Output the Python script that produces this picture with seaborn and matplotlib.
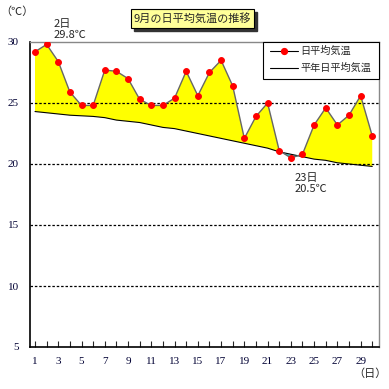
import matplotlib
matplotlib.use("Agg")
import matplotlib.pyplot as plt
import seaborn as sns
import numpy as np
import pandas as pd

days = list(range(1, 31))
daily_mean = [29.2, 29.8, 28.4, 25.9, 24.8, 24.8, 27.7, 27.6, 27.0, 25.3,
              24.8, 24.8, 25.4, 27.6, 25.6, 27.5, 28.5, 26.4, 22.1, 23.9,
              25.0, 21.1, 20.5, 20.8, 23.2, 24.6, 23.2, 24.0, 25.6, 22.3]
normal_mean = [24.3, 24.2, 24.1, 24.0, 23.95, 23.9, 23.8, 23.6, 23.5, 23.4,
               23.2, 23.0, 22.9, 22.7, 22.5, 22.3, 22.1, 21.9, 21.7, 21.5,
               21.3, 21.0, 20.8, 20.6, 20.4, 20.3, 20.1, 20.0, 19.9, 19.8]
yticks = [5, 10, 15, 20, 25, 30]
xtick_labels = [1, 3, 5, 7, 9, 11, 13, 15, 17, 19, 21, 23, 25, 27, 29]
title = "9月の日平均気温の推移"
label_daily = "日平均気温"
label_normal = "平年日平均気温"

sns.set_style("white")
plt.rcParams['font.family'] = ['Noto Sans CJK JP', 'DejaVu Sans']

df = pd.DataFrame({"day": days, "daily": daily_mean, "normal": normal_mean})

fig = plt.figure(figsize=(3.89, 3.89), dpi=100)
ax = fig.add_axes([30/389, 42/389, 349/389, 305/389])

d = np.array(days, float)
a = np.array(daily_mean)
n = np.array(normal_mean)
ax.fill_between(d, a, n, where=a >= n, interpolate=True, color="#ffff00", lw=0, zorder=1)
ax.fill_between(d, a, n, where=a < n, interpolate=True, color="#33cccc", lw=0, zorder=1)

sns.lineplot(data=df, x="day", y="normal", ax=ax, color="black", lw=0.8, zorder=3, legend=False)
sns.lineplot(data=df, x="day", y="daily", ax=ax, color="#666666", lw=1.0, zorder=4,
             marker="o", markersize=4.2, markerfacecolor="red", markeredgecolor="red", legend=False)

for y in [10, 15, 20, 25]:
    ax.axhline(y, color="black", lw=0.9, ls=(0, (2, 1.5)), zorder=2)

ax.set_xlim(0.57, 30.58)
ax.set_ylim(5, 30)
ax.set_yticks(yticks)
ax.set_yticklabels([str(v) for v in yticks], family="Liberation Serif", fontsize=8, color="#000033")
ax.set_xticks(days)
ax.set_xticklabels([str(v) if v in xtick_labels else "" for v in days],
                   family="Liberation Serif", fontsize=8, color="#000033")
ax.tick_params(axis="x", direction="in", length=4, width=0.8, pad=7, bottom=True)
ax.tick_params(axis="y", length=0, pad=8)
ax.set_xlabel("")
ax.set_ylabel("")
for s in ["left", "bottom"]:
    ax.spines[s].set_color("black")
    ax.spines[s].set_linewidth(1.2)
for s in ["top", "right"]:
    ax.spines[s].set_color("#888888")
    ax.spines[s].set_linewidth(1.0)

# annotations
ax.text(2.6, 30.2, "2日\n29.8℃", fontsize=8, va="bottom", ha="left", linespacing=1.1, zorder=6)
ax.text(23.3, 19.3, "23日\n20.5℃", fontsize=8, va="top", ha="left", linespacing=1.2, zorder=6)

fig.text(0/389, 1 - 12/389, "（℃）", fontsize=8, va="center", ha="left")
fig.text(353/389, 1 - 374/389, "（日）", fontsize=8, va="center", ha="left")

# title box with shadow
tx0, ty0, tw, th = 131/389, 1 - 28/389, 123/389, 19/389
fig.patches.append(plt.Rectangle((tx0 + 3/389, ty0 - 3/389), tw, th, transform=fig.transFigure,
                                 color="#333333", zorder=0))
fig.patches.append(plt.Rectangle((tx0, ty0), tw, th, transform=fig.transFigure,
                                 facecolor="#ffff99", edgecolor="black", lw=0.8, zorder=1))
fig.text(tx0 + tw/2, ty0 + th/2, title, fontsize=8, ha="center", va="center", zorder=2)

# legend box
lx0, ly0, lw_, lh = 263/389, 1 - 79/389, 116/389, 37/389
fig.patches.append(plt.Rectangle((lx0, ly0), lw_, lh, transform=fig.transFigure,
                                 facecolor="white", edgecolor="black", lw=0.8, zorder=5))
y1 = 1 - 51/389
y2 = 1 - 68/389
fig.lines.append(plt.Line2D([270/389, 298/389], [y1, y1], transform=fig.transFigure,
                            color="black", lw=0.8, zorder=6))
fig.lines.append(plt.Line2D([284/389], [y1], transform=fig.transFigure, marker="o",
                            markersize=4.2, color="red", zorder=7))
fig.text(300/389, y1, label_daily, fontsize=7.3, va="center", ha="left", zorder=7)
fig.lines.append(plt.Line2D([270/389, 298/389], [y2, y2], transform=fig.transFigure,
                            color="black", lw=0.8, zorder=6))
fig.text(300/389, y2, label_normal, fontsize=7.3, va="center", ha="left", zorder=7)

fig.savefig("out.png", dpi=100)
